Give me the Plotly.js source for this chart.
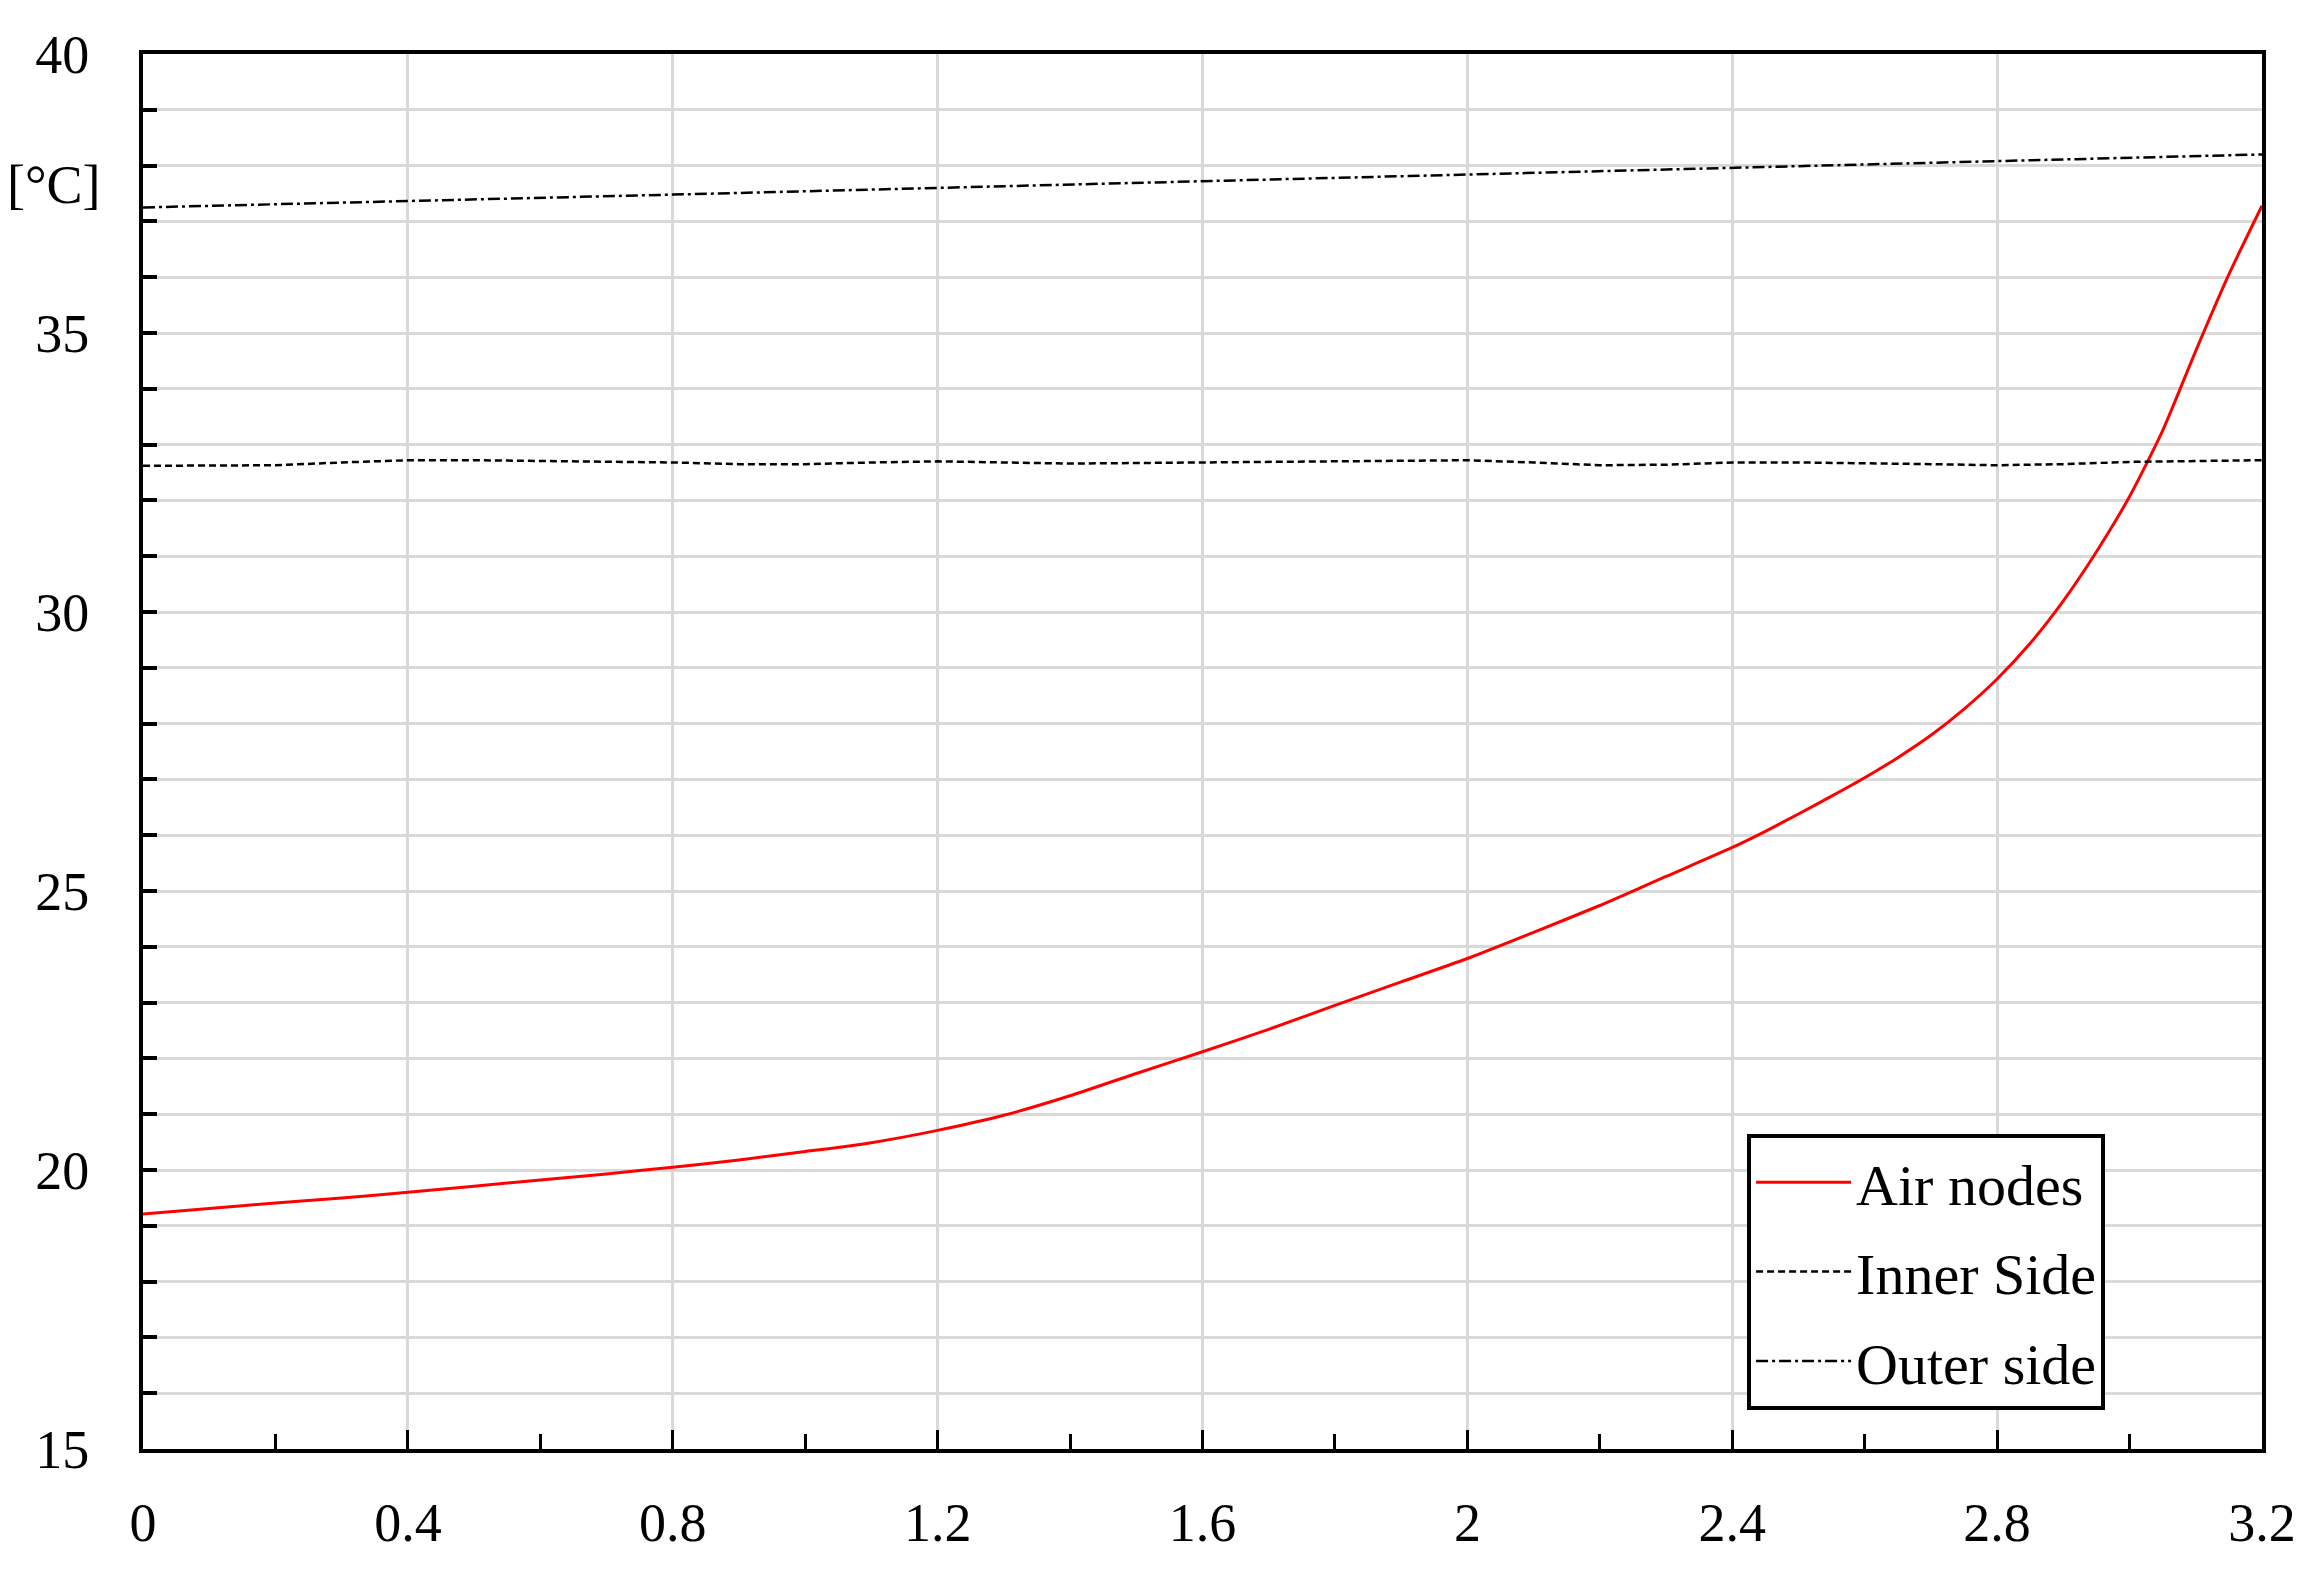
<!DOCTYPE html>
<html>
<head>
<meta charset="utf-8">
<script src="https://cdn.plot.ly/plotly-3.0.1.min.js"></script>
<style>
  html, body { margin: 0; padding: 0; background: #fff; }
  #chart { width: 2318px; height: 1589px; }
</style>
</head>
<body>
<div id="chart"></div>
<script>
// time axis
const airX = [0, 0.1, 0.2, 0.3, 0.4, 0.5, 0.6, 0.7, 0.8, 0.9, 1.0, 1.1, 1.2, 1.3, 1.4, 1.5, 1.6, 1.7, 1.8, 1.9, 2.0, 2.1, 2.2, 2.3, 2.4, 2.45, 2.5, 2.55, 2.6, 2.65, 2.7, 2.75, 2.8, 2.85, 2.9, 2.95, 3.0, 3.05, 3.1, 3.15, 3.2]
const airNodes = [19.21, 19.31, 19.41, 19.50, 19.60, 19.71, 19.82, 19.93, 20.05, 20.18, 20.33, 20.49, 20.71, 20.98, 21.33, 21.73, 22.12, 22.52, 22.95, 23.37, 23.79, 24.26, 24.74, 25.26, 25.78, 26.07, 26.38, 26.70, 27.03, 27.39, 27.79, 28.26, 28.80, 29.44, 30.20, 31.08, 32.07, 33.25, 34.68, 36.05, 37.28]

const innerX = [0, 0.1, 0.2, 0.3, 0.4, 0.5, 0.6, 0.7, 0.8, 0.9, 1.0, 1.1, 1.2, 1.3, 1.4, 1.5, 1.6, 1.7, 1.8, 1.9, 2.0, 2.1, 2.2, 2.3, 2.4, 2.5, 2.6, 2.7, 2.8, 2.9, 3.0, 3.1, 3.2]
const innerSide = [32.62, 32.62, 32.63, 32.68, 32.72, 32.72, 32.71, 32.69, 32.68, 32.65, 32.65, 32.68, 32.70, 32.68, 32.66, 32.67, 32.68, 32.70, 32.71, 32.72, 32.72, 32.68, 32.63, 32.64, 32.68, 32.68, 32.67, 32.65, 32.63, 32.65, 32.69, 32.71, 32.72]

const outerX = [0, 0.4, 0.8, 1.2, 1.6, 2.0, 2.4, 2.8, 3.2]
const outerSide = [37.25, 37.36, 37.48, 37.60, 37.72, 37.84, 37.96, 38.08, 38.20]

const serif = 'Liberation Serif, Times New Roman, serif'

var airTrace = {
  x: airX,
  y: airNodes,
  name: 'Air nodes',
  legendgroup: 'a',
  type: 'scatter',
  mode: 'lines',
  line: { color: '#ff0000', width: 3, shape: 'spline', smoothing: 0.6 }
}

var innerTrace = {
  x: innerX,
  y: innerSide,
  name: 'Inner Side',
  legendgroup: 'b',
  type: 'scatter',
  mode: 'lines',
  line: { color: '#000000', width: 2.5, dash: '7px,4px' }
}

var outerTrace = {
  x: outerX,
  y: outerSide,
  name: 'Outer side',
  legendgroup: 'c',
  type: 'scatter',
  mode: 'lines',
  line: { color: '#000000', width: 2.5, dash: '12px,4px,3px,4px' }
}

var data = [airTrace, innerTrace, outerTrace]

var layout = {
  width: 2318,
  height: 1589,
  margin: { l: 143, r: 56, t: 54, b: 140 },
  paper_bgcolor: '#ffffff',
  plot_bgcolor: '#ffffff',
  font: { family: serif, size: 54, color: '#000000' },
  showlegend: true,
  hovermode: false,
  legend: {
    x: 0.757,
    y: 0.2258,
    xanchor: 'left',
    yanchor: 'top',
    bgcolor: '#ffffff',
    bordercolor: '#000000',
    borderwidth: 4,
    traceorder: 'grouped',
    tracegroupgap: 11,
    itemwidth: 95,
    font: { family: serif, size: 58, color: '#000000' }
  },
  xaxis: {
    range: [0, 3.2],
    dtick: 0.4,
    tick0: 0,
    showline: true,
    mirror: true,
    linecolor: '#000000',
    linewidth: 4,
    ticks: 'inside',
    ticklen: 19,
    tickwidth: 3,
    tickcolor: '#000000',
    ticklabelstandoff: 23,
    showgrid: true,
    gridcolor: '#d9d9d9',
    gridwidth: 3,
    zeroline: false,
    minor: { dtick: 0.2, ticks: 'inside', ticklen: 15, tickwidth: 3, tickcolor: '#000000', showgrid: false },
    tickfont: { family: serif, size: 54, color: '#000000' }
  },
  yaxis: {
    range: [15, 40],
    dtick: 5,
    tick0: 15,
    showline: true,
    mirror: true,
    linecolor: '#000000',
    linewidth: 4,
    ticks: 'inside',
    ticklen: 14,
    tickwidth: 4,
    tickcolor: '#000000',
    ticklabelstandoff: 39,
    showgrid: true,
    gridcolor: '#d9d9d9',
    gridwidth: 3,
    zeroline: false,
    minor: { dtick: 1, ticks: 'inside', ticklen: 14, tickwidth: 4, tickcolor: '#000000', showgrid: true, gridcolor: '#d9d9d9', gridwidth: 3 },
    tickfont: { family: serif, size: 54, color: '#000000' }
  },
  annotations: [{
    text: '[°C]',
    xref: 'paper',
    yref: 'paper',
    x: -0.042,
    y: 0.906,
    xanchor: 'center',
    yanchor: 'middle',
    showarrow: false,
    font: { family: serif, size: 54, color: '#000000' }
  }]
}

Plotly.newPlot('chart', data, layout, { staticPlot: true, displayModeBar: false })
</script>
</body>
</html>
